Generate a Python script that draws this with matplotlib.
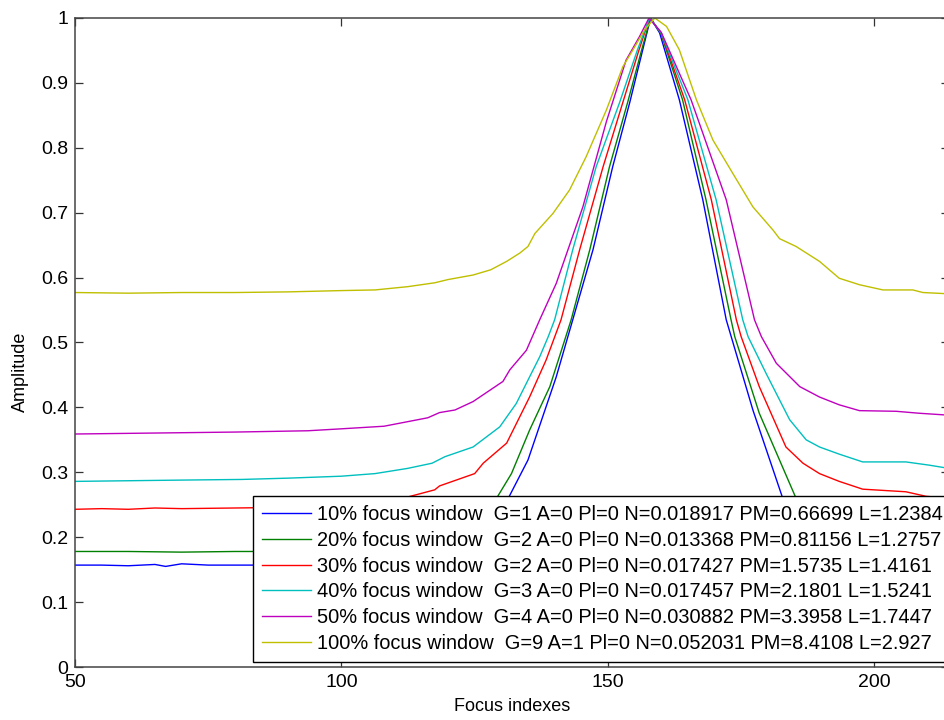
import matplotlib
matplotlib.use("Agg")
import matplotlib.pyplot as plt
from matplotlib.ticker import FuncFormatter, MultipleLocator

plt.rcParams["font.family"] = ["Liberation Sans", "DejaVu Sans"]

# focus curves (x = focus index, y = normalised amplitude)
x_10 = [50, 55, 60, 65, 67, 70, 75, 80, 85, 100, 110, 118, 124, 128, 131.3, 135,
        140.3, 143.4, 147.2, 150.9, 154.1, 156.5, 158, 159.7, 163.4, 167.8, 172.2,
        177.2, 182.8, 187, 192, 198, 205, 214]
y_10 = [0.157, 0.157, 0.156, 0.158, 0.155, 0.159, 0.157, 0.157, 0.157, 0.158, 0.16,
        0.165, 0.185, 0.22, 0.26, 0.319, 0.447, 0.535, 0.643, 0.771, 0.87, 0.95, 1.0,
        0.977, 0.874, 0.72, 0.535, 0.396, 0.26, 0.21, 0.18, 0.165, 0.16, 0.158]

x_20 = [50, 60, 70, 80, 90, 100, 110, 118, 124, 127, 129.1, 131.9, 135.3, 139.1,
        141.9, 143.1, 146.6, 150.3, 153.7, 156.3, 158, 160, 164, 168.4, 173.1, 173.8,
        178.4, 185.3, 190, 196, 205, 214]
y_20 = [0.178, 0.178, 0.177, 0.178, 0.178, 0.18, 0.185, 0.195, 0.22, 0.24, 0.26,
        0.298, 0.365, 0.432, 0.504, 0.535, 0.643, 0.771, 0.87, 0.95, 1.0, 0.975, 0.874,
        0.72, 0.535, 0.509, 0.391, 0.26, 0.22, 0.195, 0.183, 0.18]

x_30 = [50, 55, 60, 65, 70, 80, 90, 100, 106, 112, 117.5, 118.4, 125, 126.6, 131,
        135.3, 138.4, 141.2, 144.7, 149.1, 152.8, 155.8, 157.8, 160, 164.4, 169.4,
        174.1, 175, 178.4, 183.4, 186.6, 189.7, 193.4, 197.8, 205.9, 209.7, 214]
y_30 = [0.243, 0.244, 0.243, 0.245, 0.244, 0.245, 0.246, 0.249, 0.252, 0.261, 0.273,
        0.279, 0.298, 0.314, 0.345, 0.416, 0.473, 0.535, 0.643, 0.771, 0.87, 0.95, 1.0,
        0.977, 0.874, 0.72, 0.535, 0.509, 0.432, 0.339, 0.314, 0.298, 0.286, 0.274,
        0.27, 0.263, 0.26]

x_40 = [50, 60, 70, 81.3, 90, 100, 106.3, 112.4, 117, 119.4, 124.7, 129.7, 132.8,
        135.3, 137.2, 138.8, 140, 143.4, 147.8, 152.2, 155.5, 157.8, 160, 165, 170.3,
        175.3, 176.3, 179.7, 184.1, 187.2, 189.7, 193.4, 197.8, 205.9, 210.3, 214]
y_40 = [0.286, 0.287, 0.288, 0.289, 0.291, 0.294, 0.298, 0.306, 0.314, 0.324, 0.339,
        0.37, 0.406, 0.447, 0.478, 0.509, 0.535, 0.643, 0.771, 0.87, 0.95, 1.0, 0.977,
        0.874, 0.72, 0.535, 0.509, 0.452, 0.381, 0.35, 0.339, 0.328, 0.316, 0.316,
        0.311, 0.306]

x_50 = [50, 60, 70, 80, 93.7, 100, 108, 116.2, 118.4, 121.3, 124.7, 130.3, 131.6,
        134.7, 137.2, 140.3, 145.3, 149.7, 153.4, 155.9, 157.7, 160, 165.6, 172.2,
        177.5, 178.8, 181.6, 186, 189.7, 193.4, 197.2, 204.1, 208.4, 214]
y_50 = [0.359, 0.36, 0.361, 0.362, 0.364, 0.367, 0.371, 0.384, 0.392, 0.396, 0.409,
        0.44, 0.458, 0.488, 0.535, 0.591, 0.709, 0.84, 0.935, 0.971, 1.0, 0.978, 0.874,
        0.72, 0.535, 0.509, 0.468, 0.432, 0.416, 0.404, 0.395, 0.394, 0.391, 0.388]

x_100 = [50, 60, 70, 80, 90, 100, 106.3, 112.4, 117.5, 120, 124.7, 128, 131, 133.5,
         135, 136.3, 139.7, 142.8, 145.9, 149.7, 152.8, 154.7, 156.9, 158.8, 161,
         163.4, 166.6, 169.7, 173.4, 177.2, 181, 182.2, 185.3, 189.7, 193.4, 197.2,
         201.6, 207.2, 209.1, 214]
y_100 = [0.577, 0.576, 0.577, 0.577, 0.578, 0.58, 0.581, 0.586, 0.592, 0.597, 0.604,
         0.612, 0.625, 0.638, 0.648, 0.668, 0.699, 0.735, 0.786, 0.858, 0.925, 0.951,
         0.982, 1.0, 0.987, 0.951, 0.874, 0.812, 0.761, 0.709, 0.673, 0.66, 0.648,
         0.625, 0.599, 0.589, 0.581, 0.581, 0.577, 0.575]

labels = [
    "10% focus window  G=1 A=0 Pl=0 N=0.018917 PM=0.66699 L=1.2384",
    "20% focus window  G=2 A=0 Pl=0 N=0.013368 PM=0.81156 L=1.2757",
    "30% focus window  G=2 A=0 Pl=0 N=0.017427 PM=1.5735 L=1.4161",
    "40% focus window  G=3 A=0 Pl=0 N=0.017457 PM=2.1801 L=1.5241",
    "50% focus window  G=4 A=0 Pl=0 N=0.030882 PM=3.3958 L=1.7447",
    "100% focus window  G=9 A=1 Pl=0 N=0.052031 PM=8.4108 L=2.927",
]

# matlab default plot colours b, g, r, c, m, y
colors = ["#0000ff", "#008000", "#ff0000", "#00bfbf", "#bf00bf", "#bfbf00"]

series = [(x_10, y_10), (x_20, y_20), (x_30, y_30),
          (x_40, y_40), (x_50, y_50), (x_100, y_100)]

fig = plt.figure(figsize=(9.45, 7.2), dpi=100)
# the right part of the axes runs off the picture, as in the reference
ax = fig.add_axes([75 / 945, 53 / 720, 874 / 945, 649 / 720])

for (xs, ys), lab, col in zip(series, labels, colors):
    ax.plot(xs, ys, color=col, linewidth=1.0, label=lab)

ax.set_xlim(50, 214)
ax.set_ylim(0, 1)
ax.xaxis.set_major_locator(MultipleLocator(50))
ax.yaxis.set_major_locator(MultipleLocator(0.1))
ax.yaxis.set_major_formatter(FuncFormatter(lambda v, p: "%g" % round(v, 2)))
ax.tick_params(direction="in", length=5.5, width=0.9, labelsize=14,
               top=True, right=True, color="#333333", pad=5)
for sp in ax.spines.values():
    sp.set_color("#444444")
    sp.set_linewidth(1.1)

ax.set_xlabel("Focus indexes", fontsize=13, labelpad=5)
ax.set_ylabel("Amplitude", fontsize=13)
ax.yaxis.set_label_coords(-0.0526, 0.455)

leg = ax.legend(loc="lower left", bbox_to_anchor=(253 / 945, 58 / 720),
                bbox_transform=fig.transFigure, borderaxespad=0,
                fontsize=14.4, frameon=True, fancybox=False, framealpha=1,
                edgecolor="black", handlelength=2.45, handletextpad=0.3,
                labelspacing=0.34, borderpad=0.45)
leg.get_frame().set_linewidth(1.0)

fig.savefig("out.png", dpi=100)
